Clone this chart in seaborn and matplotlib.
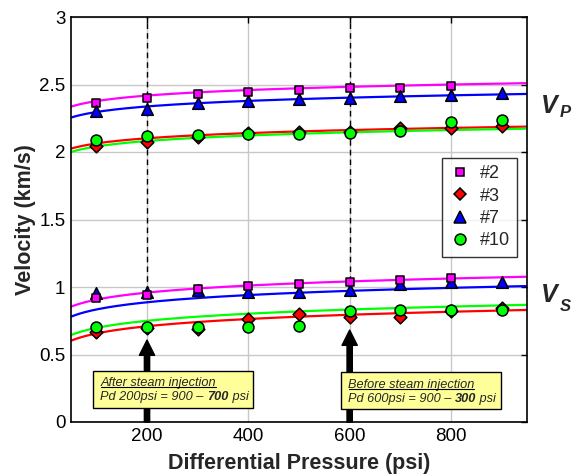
import numpy as np
import pandas as pd
import matplotlib
matplotlib.use("Agg")
import matplotlib.pyplot as plt
from matplotlib.patches import Rectangle
from matplotlib.lines import Line2D
import seaborn as sns

# ---------------- data ----------------
pressure = [100, 200, 300, 400, 500, 600, 700, 800, 900]
samples = ["#2", "#3", "#7", "#10"]

vp_2 = [2.36, 2.40, 2.427, 2.444, 2.459, 2.476, 2.474, 2.489, np.nan]
vp_3 = [2.044, 2.076, 2.109, 2.138, 2.15, 2.15, 2.175, 2.175, 2.19]
vp_7 = [2.306, 2.32, 2.36, 2.38, 2.395, 2.397, 2.415, 2.42, 2.435]
vp_10 = [2.09, 2.12, 2.126, 2.133, 2.133, 2.138, 2.158, 2.22, 2.237]

vs_2 = [0.916, 0.94, 0.983, 1.007, 1.022, 1.037, 1.052, 1.069, np.nan]
vs_3 = [0.669, 0.70, 0.69, 0.76, 0.797, 0.78, 0.78, 0.82, 0.845]
vs_7 = [0.958, 0.965, 0.975, 0.965, 0.965, 0.975, 1.02, 1.035, 1.037]
vs_10 = [0.706, 0.706, 0.703, 0.703, 0.713, 0.824, 0.826, 0.83, 0.826]

# trend-line (log fit) values read at the axis ends, P = 50 and P = 950
vp_fit_50 = {"#2": 2.336, "#3": 2.025, "#7": 2.255, "#10": 2.0}
vp_fit_950 = {"#2": 2.51, "#3": 2.188, "#7": 2.43, "#10": 2.173}
vs_fit_50 = {"#2": 0.854, "#3": 0.602, "#7": 0.78, "#10": 0.644}
vs_fit_950 = {"#2": 1.076, "#3": 0.83, "#7": 1.007, "#10": 0.868}

x_ticks = [200, 400, 600, 800]
y_ticks = [0, 0.5, 1, 1.5, 2, 2.5, 3]
y_tick_labels = ["0", "0.5", "1", "1.5", "2", "2.5", "3"]

# ---------------- styling ----------------
sns.set_style("white")
plt.rcParams["font.family"] = ["Liberation Sans", "DejaVu Sans"]

colors = {"#2": "#FF00FF", "#3": "#FF0000", "#7": "#0000FF", "#10": "#00FF00"}
markers = {"#2": "s", "#3": "D", "#7": "^", "#10": "o"}
msize = {"#2": 40, "#3": 42, "#7": 70, "#10": 62}

vp = {"#2": vp_2, "#3": vp_3, "#7": vp_7, "#10": vp_10}
vs = {"#2": vs_2, "#3": vs_3, "#7": vs_7, "#10": vs_10}

fig = plt.figure(figsize=(5.74, 4.74), dpi=100)
ax = fig.add_axes([71 / 574, 1 - 422 / 474, (527 - 71) / 574, (422 - 17) / 474])

ax.set_xlim(50, 950)
ax.set_ylim(0, 3)

# grid
for xv in x_ticks:
    ax.axvline(xv, color="#c8c8c8", lw=1.0, zorder=0)
for yv in y_ticks:
    ax.axhline(yv, color="#c8c8c8", lw=1.0, zorder=0)

# dashed reference lines
for xv in [200, 600]:
    ax.plot([xv, xv], [0.97, 3], color="black", lw=1.0, ls=(0, (4, 3)), zorder=1)

# fitted curves
pgrid = np.linspace(50, 950, 200)
def logcurve(v50, v950):
    b = (v950 - v50) / np.log(950 / 50)
    a = v50 - b * np.log(50)
    return a + b * np.log(pgrid)

for s in ["#2", "#3", "#7", "#10"]:
    sns.lineplot(x=pgrid, y=logcurve(vp_fit_50[s], vp_fit_950[s]), color=colors[s],
                 lw=1.6, ax=ax, zorder=2)
    sns.lineplot(x=pgrid, y=logcurve(vs_fit_50[s], vs_fit_950[s]), color=colors[s],
                 lw=1.6, ax=ax, zorder=2)

# points
for s in ["#2", "#3", "#7", "#10"]:
    df = pd.DataFrame({"P": pressure, "V": vp[s]}).dropna()
    sns.scatterplot(data=df, x="P", y="V", marker=markers[s], color=colors[s],
                    s=msize[s], edgecolor="black", linewidth=1.1, ax=ax, zorder=3)
for s in ["#7", "#2", "#3", "#10"]:
    df = pd.DataFrame({"P": pressure, "V": vs[s]}).dropna()
    sns.scatterplot(data=df, x="P", y="V", marker=markers[s], color=colors[s],
                    s=msize[s], edgecolor="black", linewidth=1.1, ax=ax, zorder=3)

# arrows
arrow_style = "simple,head_length=1.1,head_width=1.1,tail_width=0.38"
for xv, tip in [(200, 0.607), (600, 0.681)]:
    ax.annotate("", xy=(xv, tip), xytext=(xv, 0.0),
                arrowprops=dict(arrowstyle=arrow_style, fc="black", ec="black",
                                shrinkA=0, shrinkB=0, mutation_scale=10),
                zorder=4)

# text boxes
fs_box = 9.2
boxes = [
    (93, 0.101, 408.5, 0.38, 108, 0.269, 0.160, "After steam injection",
     "Pd 200psi = 900 \u2013 ", "700"),
    (583, 0.094, 899, 0.368, 596, 0.254, 0.147, "Before steam injection",
     "Pd 600psi = 900 \u2013 ", "300"),
]
underline_texts = []
for x0, y0, x1, y1, tx, ty1, ty2, l1, l2a, l2b in boxes:
    ax.add_patch(Rectangle((x0, y0), x1 - x0, y1 - y0, fc="#FFFF99", ec="black",
                           lw=1.0, zorder=5))
    t1 = ax.text(tx, ty1, l1, style="italic", fontsize=fs_box, zorder=6, va="baseline")
    underline_texts.append((t1, ty1))
    ta = ax.text(tx, ty2, l2a, style="italic", fontsize=fs_box, zorder=6, va="baseline")
    tb = ax.annotate(l2b, xy=(1, 0), xycoords=ta, va="bottom", ha="left",
                     style="italic", weight="bold", fontsize=fs_box, zorder=6)
    ax.annotate(" psi", xy=(1, 0), xycoords=tb, va="bottom", ha="left",
                style="italic", fontsize=fs_box, zorder=6)

# legend
handles = [Line2D([], [], ls="none", marker=markers[s], markerfacecolor=colors[s],
                  markeredgecolor="black", markeredgewidth=1.1,
                  markersize=np.sqrt(msize[s])) for s in samples]
leg = ax.legend(handles, samples, loc="upper right", bbox_to_anchor=(0.979, 0.652),
                borderaxespad=0, fontsize=13, frameon=True, fancybox=False,
                handlelength=1.2, handletextpad=0.5, labelspacing=0.3,
                borderpad=0.4)
leg.get_frame().set_edgecolor("black")
leg.get_frame().set_linewidth(1.0)
leg.set_zorder(7)

# ticks and labels
ax.set_xticks(x_ticks)
ax.set_xticklabels([str(v) for v in x_ticks])
ax.set_yticks(y_ticks)
ax.set_yticklabels(y_tick_labels)
ax.tick_params(direction="in", length=4, width=1, top=True, right=True,
               labelsize=13.5, colors="black", pad=4)
for sp in ax.spines.values():
    sp.set_color("black")
    sp.set_linewidth(1.2)
    sp.set_visible(True)

ax.set_xlabel("Differential Pressure (psi)", fontsize=15.5, fontweight="bold", labelpad=6)
ax.set_ylabel("Velocity (km/s)", fontsize=15.5, fontweight="bold", labelpad=2)

# V_P / V_S labels
fig.text(541 / 574, 1 - 113 / 474, "V", fontsize=18, fontweight="bold", style="italic",
         va="baseline", ha="left")
fig.text(560 / 574, 1 - 117 / 474, "P", fontsize=12, fontweight="bold", style="italic",
         va="baseline", ha="left")
fig.text(541 / 574, 1 - 302 / 474, "V", fontsize=18, fontweight="bold", style="italic",
         va="baseline", ha="left")
fig.text(560 / 574, 1 - 311 / 474, "S", fontsize=12, fontweight="bold", style="italic",
         va="baseline", ha="left")

# underline the first line of each box
fig.canvas.draw()
renderer = fig.canvas.get_renderer()
for t, ty in underline_texts:
    bb = t.get_window_extent(renderer)
    inv = ax.transData.inverted()
    (xa, _), (xb, _) = inv.transform([(bb.x0, bb.y0), (bb.x1, bb.y0)])
    _, ybase = ax.transData.transform((0, ty))
    yline = inv.transform((0, ybase - 1.5))[1]
    ax.plot([xa + 2, xb], [yline, yline], color="black", lw=0.8, zorder=6)

fig.savefig("out.png", dpi=100)
